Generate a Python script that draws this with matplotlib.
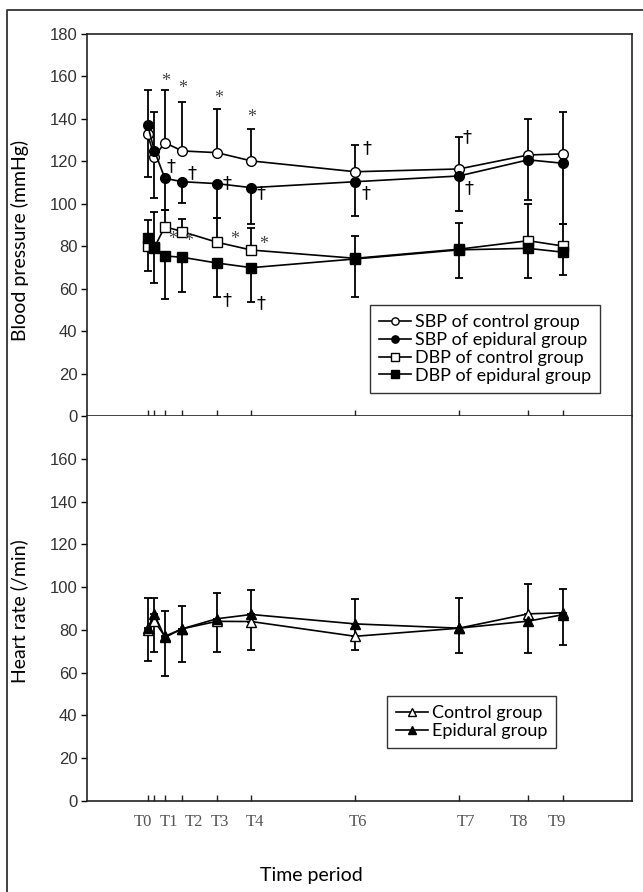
import numpy as np
import matplotlib
matplotlib.use('Agg')
from matplotlib import pyplot as plt
from matplotlib.lines import Line2D

# time points (minutes) and labels
time_min = [0, 2, 5, 10, 20, 30, 60, 90, 110, 120]
tick_names = ['T0', 'T1', 'T2', 'T3', 'T4', 'T6', 'T7', 'T8', 'T9']
tick_name_x = [-1.2, 6.2, 13.4, 20.8, 31, 60.9, 92, 107.2, 118.4]

# blood pressure (mean, one sided SD)
sbp_ctrl = [132.8, 122.2, 128.8, 124.9, 124.1, 120.2, 115.1, 116.4, 123.0, 123.5]
sbp_ctrl_up = [20.8, 21.2, 24.8, 23.2, 20.6, 14.9, 12.6, 15.2, 17.0, 19.9]
sbp_epi = [137.2, 124.9, 112.0, 110.4, 109.5, 107.6, 110.4, 113.1, 120.7, 119.1]
sbp_epi_low = [24.8, 22.0, 14.9, 9.8, 16.0, 17.1, 16.0, 16.5, 18.9, 28.8]
dbp_ctrl = [80.1, 79.5, 89.2, 86.9, 81.9, 78.2, 74.3, 78.6, 82.6, 80.1]
dbp_ctrl_up = [12.3, 16.5, 8.0, 6.0, 11.6, 10.2, 10.5, 12.2, 17.2, 10.2]
dbp_epi = [84.0, 79.0, 75.4, 74.8, 72.1, 69.9, 74.0, 78.3, 79.0, 77.2]
dbp_epi_low = [15.5, 16.5, 20.3, 16.5, 16.2, 16.0, 18.1, 13.4, 14.1, 10.7]

# heart rate
hr_ctrl = [80.0, 84.0, 77.0, 80.5, 84.0, 83.9, 77.0, 80.8, 87.5, 88.0]
hr_ctrl_up = [15.1, 11.1, 11.8, 10.5, 13.3, 14.6, 17.3, 14.3, 13.8, 11.2]
hr_epi = [80.9, 87.2, 76.5, 80.5, 85.2, 87.2, 82.8, 80.8, 84.1, 87.1]
hr_epi_low = [15.3, 17.4, 18.0, 15.7, 15.4, 16.6, 12.2, 11.8, 14.9, 14.0]

# significance marks
star_pts = [(5.2, 157.6), (10.2, 154.4), (20.6, 149.7), (30.1, 140.8),
            (7.2, 83.3), (11.9, 82.1), (25.2, 83.3), (33.4, 80.6)]
dagger_pts = [(6.9, 117.5), (12.7, 114.4), (23, 109.7), (32.9, 105),
              (23, 54.7), (32.9, 53.1), (63.3, 126.2), (63.1, 105),
              (92.2, 131.6), (92.9, 107.3)]

lab_font = 'Lato'
W, H = 643, 892
fig = plt.figure(figsize=(W/100, H/100), dpi=100)

# outer frame (top and left only visible)
fx = 7/W
fy = 1 - 10/H
fig.add_artist(Line2D([fx, fx, 1.0], [0, fy, fy], transform=fig.transFigure,
                      color='#333333', lw=1.3))

ax1 = fig.add_axes([87/W, 1-416/H, 545/W, 382/H])
ax2 = fig.add_axes([87/W, 1-801/H, 545/W, 385/H])

zeros = np.zeros(len(time_min))
eb = dict(fmt='none', ecolor='black', elinewidth=1.3, capsize=3, capthick=1.3, zorder=2)
ln = dict(color='black', lw=1.2, markersize=7, markeredgewidth=1.0, zorder=3)

def plot_series(ax, y, low, up, marker, face, label):
    ax.errorbar(time_min, y, yerr=[low, up], **eb)
    ax.plot(time_min, y, marker=marker, markerfacecolor=face,
            markeredgecolor='black', label=label, **ln)

plot_series(ax1, sbp_ctrl, zeros, sbp_ctrl_up, 'o', 'white', 'SBP of control group')
plot_series(ax1, sbp_epi, sbp_epi_low, zeros, 'o', 'black', 'SBP of epidural group')
plot_series(ax1, dbp_ctrl, zeros, dbp_ctrl_up, 's', 'white', 'DBP of control group')
plot_series(ax1, dbp_epi, dbp_epi_low, zeros, 's', 'black', 'DBP of epidural group')

plot_series(ax2, hr_ctrl, zeros, hr_ctrl_up, '^', 'white', 'Control group')
plot_series(ax2, hr_epi, hr_epi_low, zeros, '^', 'black', 'Epidural group')

for x, y in star_pts:
    ax1.text(x, y, '*', ha='center', va='center', fontsize=13,
             family='Liberation Serif', color='#444444')
for x, y in dagger_pts:
    ax1.text(x, y, '\u2020', ha='center', va='center', fontsize=13,
             family='DejaVu Sans', color='black')

for ax in (ax1, ax2):
    ax.set_xlim(-17.5, 140)
    ax.set_ylim(0, 180)
    ax.set_xticks(time_min)
    ax.tick_params(axis='x', which='major', direction='in', length=4,
                   width=1, labelbottom=False, color='#222222')
    ax.tick_params(axis='y', direction='out', length=4, width=1,
                   labelsize=12, labelcolor='#333333', pad=3)
    for s in ax.spines.values():
        s.set_linewidth(1.2)
        s.set_color('#222222')

ax1.set_yticks(np.arange(0, 181, 20))
ax2.set_yticks(np.arange(0, 161, 20))
ax2.spines['top'].set_visible(False)
for lab in ax1.get_yticklabels() + ax2.get_yticklabels():
    lab.set_family('Liberation Sans')

ax2.set_xticks(tick_name_x, minor=True)
ax2.set_xticklabels(tick_names, minor=True, family='Liberation Serif',
                    fontsize=12, color='#555555')
ax2.tick_params(axis='x', which='minor', length=0, pad=9, labelbottom=True)

ax1.set_ylabel('Blood pressure (mmHg)', family=lab_font, fontsize=14)
ax1.yaxis.set_label_coords(-0.106, 0.46)
ax2.set_ylabel('Heart rate (/min)', family=lab_font, fontsize=14)
ax2.yaxis.set_label_coords(-0.108, 0.494)
ax2.set_xlabel('Time period', family=lab_font, fontsize=14)
ax2.xaxis.set_label_coords(0.412, -0.172)

leg_kw = dict(frameon=True, fancybox=False, edgecolor='black',
              prop={'family': lab_font, 'size': 13}, handlelength=1.8,
              handletextpad=0.2, labelspacing=0.1, borderpad=0.5,
              markerscale=0.75, borderaxespad=0)
l1 = ax1.legend(loc='lower right', bbox_to_anchor=(0.941, 0.061), **leg_kw)
l2 = ax2.legend(loc='lower right', bbox_to_anchor=(0.861, 0.138), **leg_kw)
for l in (l1, l2):
    l.get_frame().set_linewidth(1.0)

fig.savefig('out.png', dpi=100)
